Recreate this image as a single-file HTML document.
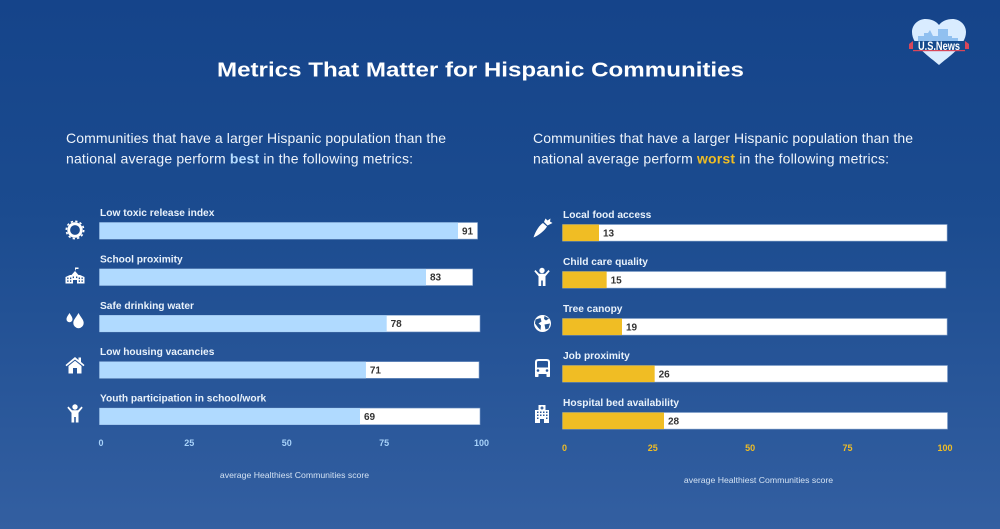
<!DOCTYPE html>
<html lang="en">
<head>
<meta charset="utf-8">
<title>Metrics That Matter for Hispanic Communities</title>
<style>
  html, body { margin: 0; padding: 0; width: 1000px; height: 529px; overflow: hidden; background: #1d4c90; }
  svg { display: block; font-family: "Liberation Sans", Arial, sans-serif; }
  .row-label { font-size: 10.2px; font-weight: 700; fill: #e9f2fb; }
  .value-label { font-size: 10px; font-weight: 700; fill: #333; text-anchor: middle; }
  .tick-label { font-size: 9px; font-weight: 700; text-anchor: middle; }
  .axis-title { font-size: 8.7px; fill: #d3e2f3; text-anchor: middle; }
  .intro { font-size: 14px; fill: #eef4fb; }
</style>
</head>
<body>
<svg id="root" xmlns="http://www.w3.org/2000/svg" width="1000" height="529" viewBox="0 0 1000 529">
  <defs>
    <linearGradient id="bg" x1="0" y1="0" x2="0" y2="1">
      <stop offset="0" stop-color="#15448a"/>
      <stop offset="0.4" stop-color="#1b4b8f"/>
      <stop offset="1" stop-color="#335fa1"/>
    </linearGradient>
  </defs>
  <rect width="1000" height="529" fill="url(#bg)"/>

  <text x="217" y="76.5" font-size="20.5" font-weight="700" fill="#fff" textLength="527" lengthAdjust="spacingAndGlyphs">Metrics That Matter for Hispanic Communities</text>

  <text class="intro" x="66" y="143" textLength="380" lengthAdjust="spacing">Communities that have a larger Hispanic population than the</text>
  <text class="intro" x="66" y="163.5" textLength="347" lengthAdjust="spacing">national average perform <tspan font-weight="700" fill="#b5dcff">best</tspan> in the following metrics:</text>
  <text class="intro" x="533" y="143" textLength="380" lengthAdjust="spacing">Communities that have a larger Hispanic population than the</text>
  <text class="intro" x="533" y="163.5" textLength="356" lengthAdjust="spacing">national average perform <tspan font-weight="700" fill="#f0bd24">worst</tspan> in the following metrics:</text>

  <!-- Logo -->
  <g>
    <path d="M939 65 C930 57 912 46 912 32 C912 24 919 19 925.500 19 C931 19 936 21 939 25 C942 21 947 19 952.500 19 C959 19 966 24 966 32 C966 46 948 57 939 65 Z" fill="#d9ecff"/>
    <path d="M918 42 V36 H924 V33 H928 L930 30 L933 36 H938 V29 H948 V36 H952 V38 H958 V42 Z" fill="#90c0f0"/>
    <path d="M909 44 L913 41 L913 49 L909 49 Z" fill="#d8475a"/>
    <path d="M969 44 L965 41 L965 49 L969 49 Z" fill="#d8475a"/>
    <rect x="913" y="41" width="52" height="9.500" fill="#154a8c"/>
    <rect x="913" y="50" width="52" height="1.200" fill="#d8475a"/>
    <text x="939" y="50" font-size="12" font-weight="700" fill="#fff" text-anchor="middle" textLength="42" lengthAdjust="spacingAndGlyphs">U.S.News</text>
  </g>

  <!-- Left icons -->
  <g fill="#fff">
    <g transform="translate(75,230)">
      <circle r="6.300" fill="none" stroke="#fff" stroke-width="2.800"/>
      <circle r="8.700" fill="none" stroke="#fff" stroke-width="1.600" stroke-dasharray="2.300 2.250"/>
    </g>
    <g transform="translate(75,276)">
      <path d="M-9.500 7.500 V1 L-5 -1 H-3.500 L0 -5 L3.500 -1 H5 L9.500 1 V7.500 H2 V4 H-2 V7.500 Z"/>
      <path d="M0 -5 V-8.500 H3.500 V-7 H1" fill="#fff"/>
      <g fill="#20508f">
        <rect x="-7.800" y="1.500" width="1.300" height="1.600"/><rect x="-5" y="1.500" width="1.300" height="1.600"/><rect x="-2.300" y="0.500" width="1.300" height="1.600"/><rect x="1" y="0.500" width="1.300" height="1.600"/><rect x="3.700" y="1.500" width="1.300" height="1.600"/><rect x="6.500" y="1.500" width="1.300" height="1.600"/>
        <rect x="-7.800" y="4.300" width="1.300" height="1.600"/><rect x="-5" y="4.300" width="1.300" height="1.600"/><rect x="3.700" y="4.300" width="1.300" height="1.600"/><rect x="6.500" y="4.300" width="1.300" height="1.600"/>
      </g>
    </g>
    <g transform="translate(75,320)">
      <path d="M-5.500 -7 C-4 -4.500 -2.500 -2.800 -2.500 -0.800 A3 3 0 0 1 -8.500 -0.800 C-8.500 -2.800 -7 -4.500 -5.500 -7 Z"/>
      <path d="M3.500 -7 C5.500 -3 8.700 -0.500 8.700 3 A5.200 5.200 0 0 1 -1.700 3 C-1.700 -0.500 1.500 -3 3.500 -7 Z"/>
    </g>
    <g transform="translate(75,365.500)">
      <path d="M-9.500 -0.500 L0 -8.500 L3.500 -5.500 V-8 H6 V-3.500 L9.500 -0.500 L8.500 0.800 L0 -6 L-8.500 0.800 Z"/>
      <path d="M-6.500 0.500 L0 -4.700 L6.500 0.500 V8 H2 V2.500 H-2 V8 H-6.500 Z"/>
    </g>
    <g transform="translate(75,413.500)">
      <circle cy="-6.500" r="2.700"/>
      <path d="M-6.500 -7 L-3 -3.300 H3 L6.500 -7 L7.700 -5.800 L3.500 -0.800 V9 H0.800 V3.500 H-0.800 V9 H-3.500 V-0.800 L-7.700 -5.800 Z"/>
    </g>
  </g>

  <!-- Right icons -->
  <g fill="#fff">
    <g transform="translate(542.500,228)">
      <path d="M-9 9.500 C-7 3 -3 -3 0.500 -5 L4.500 -1.500 C2.500 2 -3 7 -9 9.500 Z"/>
      <path d="M1.500 -6 L3 -9.500 L5 -7.500 L8 -9.500 L7.500 -6.500 L10 -5 L7 -3.500 L5 -2.500 Z"/>
    </g>
    <g transform="translate(542,277)">
      <circle cy="-6.500" r="2.700"/>
      <path d="M-6.500 -7 L-3 -3.300 H3 L6.500 -7 L7.700 -5.800 L3.500 -0.800 V9 H0.800 V3.500 H-0.800 V9 H-3.500 V-0.800 L-7.700 -5.800 Z"/>
    </g>
    <g transform="translate(542.500,323.500)">
      <circle r="8.500"/>
      <path d="M-7 -4 L-2 -5.500 L-1 -2 L-4 0 L-1.500 2 L-2 6.500 L-4.500 4 L-7.500 0 Z M2 -7.500 L6.500 -5 L3.500 -3 L1.500 -4.500 Z M2 1 L7.500 0 L6 5 L3 6 Z" fill="#24538f"/>
    </g>
    <g transform="translate(542.500,368)">
      <path fill-rule="evenodd" d="M-7.500 -6 Q-7.500 -9 -4 -9 H4 Q7.500 -9 7.500 -6 V6 H-7.500 Z M-5.500 -6 V-0.500 H5.500 V-6 Q5.500 -7 4 -7 H-4 Q-5.500 -7 -5.500 -6 Z M-5.800 2.500 A1.300 1.300 0 0 0 -3.200 2.500 A1.300 1.300 0 0 0 -5.800 2.500 Z M3.200 2.500 A1.300 1.300 0 0 0 5.800 2.500 A1.300 1.300 0 0 0 3.200 2.500 Z"/>
      <rect x="-7.500" y="5" width="3.500" height="4" rx="0.800"/>
      <rect x="4" y="5" width="3.500" height="4" rx="0.800"/>
    </g>
    <g transform="translate(542,414)">
      <path d="M-3.500 -9 H3.500 V-4 H7 V9 H-7 V-4 H-3.500 Z"/>
      <g fill="#2a5798">
        <rect x="-0.700" y="-7.500" width="1.400" height="3"/><rect x="-1.500" y="-6.700" width="3" height="1.400"/>
        <rect x="-5" y="-2.500" width="1.500" height="1.500"/><rect x="-2" y="-2.500" width="1.500" height="1.500"/><rect x="1" y="-2.500" width="1.500" height="1.500"/><rect x="4" y="-2.500" width="1.500" height="1.500"/>
        <rect x="-5" y="0.500" width="1.500" height="1.500"/><rect x="-2" y="0.500" width="1.500" height="1.500"/><rect x="1" y="0.500" width="1.500" height="1.500"/><rect x="4" y="0.500" width="1.500" height="1.500"/>
        <rect x="-5" y="3.500" width="1.500" height="1.500"/><rect x="4" y="3.500" width="1.500" height="1.500"/>
        <rect x="-2" y="5" width="4" height="4"/>
      </g>
    </g>
  </g>

  <g id="best-chart"></g>
  <g id="worst-chart"></g>

  <text class="axis-title" x="294.500" y="478">average Healthiest Communities score</text>
  <text class="axis-title" x="758.500" y="483">average Healthiest Communities score</text>
</svg>

<script>
// Chart data
const bestCategories = ["Low toxic release index", "School proximity", "Safe drinking water", "Low housing vacancies", "Youth participation in school/work"];
const bestValues = [91, 83, 78, 71, 69];
const bestTrackMax = [99, 97, 100, 99.6, 100];

const worstCategories = ["Local food access", "Child care quality", "Tree canopy", "Job proximity", "Hospital bed availability"];
const worstValues = [13, 15, 19, 26, 28];
const worstTrackMax = [99.9, 99.6, 99.9, 100, 100];

const tickValues = [0, 25, 50, 75, 100];

const SVG_NS = 'http://www.w3.org/2000/svg';

// The source graphic's axis is not strictly linear, so each x axis is a
// piecewise-linear scale calibrated against the picture.
function piecewise(domain, range) {
  return function (v) {
    let i = 0;
    while (i < domain.length - 2 && v > domain[i + 1]) i++;
    const t = (v - domain[i]) / (domain[i + 1] - domain[i]);
    return range[i] + t * (range[i + 1] - range[i]);
  };
}
const bestX = piecewise([0, 25, 50, 69, 78, 83, 91, 100], [99.5, 189.3, 286, 360, 386.7, 426, 458, 480]);
const worstX = piecewise([0, 13, 19, 28, 100], [562.5, 599, 622, 664, 947.5]);
const bestTickX = piecewise([0, 25, 100], [101, 189.3, 481.5]);
const worstTickX = piecewise([0, 25, 100], [564.5, 652.7, 945]);
const bestY = function (i) { return 222.5 + 46.4 * i; };
const worstY = function (i) { return 224.5 + 47 * i; };
const BAR_HEIGHT = 16.6;

function svgEl(tag, attrs, parent) {
  const el = document.createElementNS(SVG_NS, tag);
  for (const k in attrs) el.setAttribute(k, attrs[k]);
  parent.appendChild(el);
  return el;
}

function drawChart(root, categories, values, trackMax, x, tickX, y, fillColor, tickColor, tickY) {
  categories.forEach(function (name, i) {
    const top = y(i);
    const x0 = x(0);
    const label = svgEl('text', { class: 'row-label', x: x0 + 0.5, y: top - 6.5 }, root);
    label.textContent = name;
    
    

    const track = svgEl('rect', { x: x0, y: top, width: x(trackMax[i]) - x0, height: BAR_HEIGHT, fill: '#fff', stroke: '#7f9fcb', 'stroke-width': 0.6 }, root);
    
    

    const fill = svgEl('rect', { x: x0, y: top, width: x(values[i]) - x0, height: BAR_HEIGHT, fill: fillColor }, root);
    
    

    const val = svgEl('text', { class: 'value-label', x: x(values[i]) + 9.5, y: top + 11.8 }, root);
    val.textContent = String(values[i]);
    
    
  });

  tickValues.forEach(function (t, i) {
    const tick = svgEl('text', { class: 'tick-label', x: tickX(t), y: tickY, fill: tickColor }, root);
    tick.textContent = String(t);
    
    
  });
}

drawChart(document.getElementById('best-chart'), bestCategories, bestValues, bestTrackMax, bestX, bestTickX, bestY, '#b0daff', '#a8d3fa', 446);
drawChart(document.getElementById('worst-chart'), worstCategories, worstValues, worstTrackMax, worstX, worstTickX, worstY, '#f0bd24', '#f0bd24', 451);
</script>
</body>
</html>
